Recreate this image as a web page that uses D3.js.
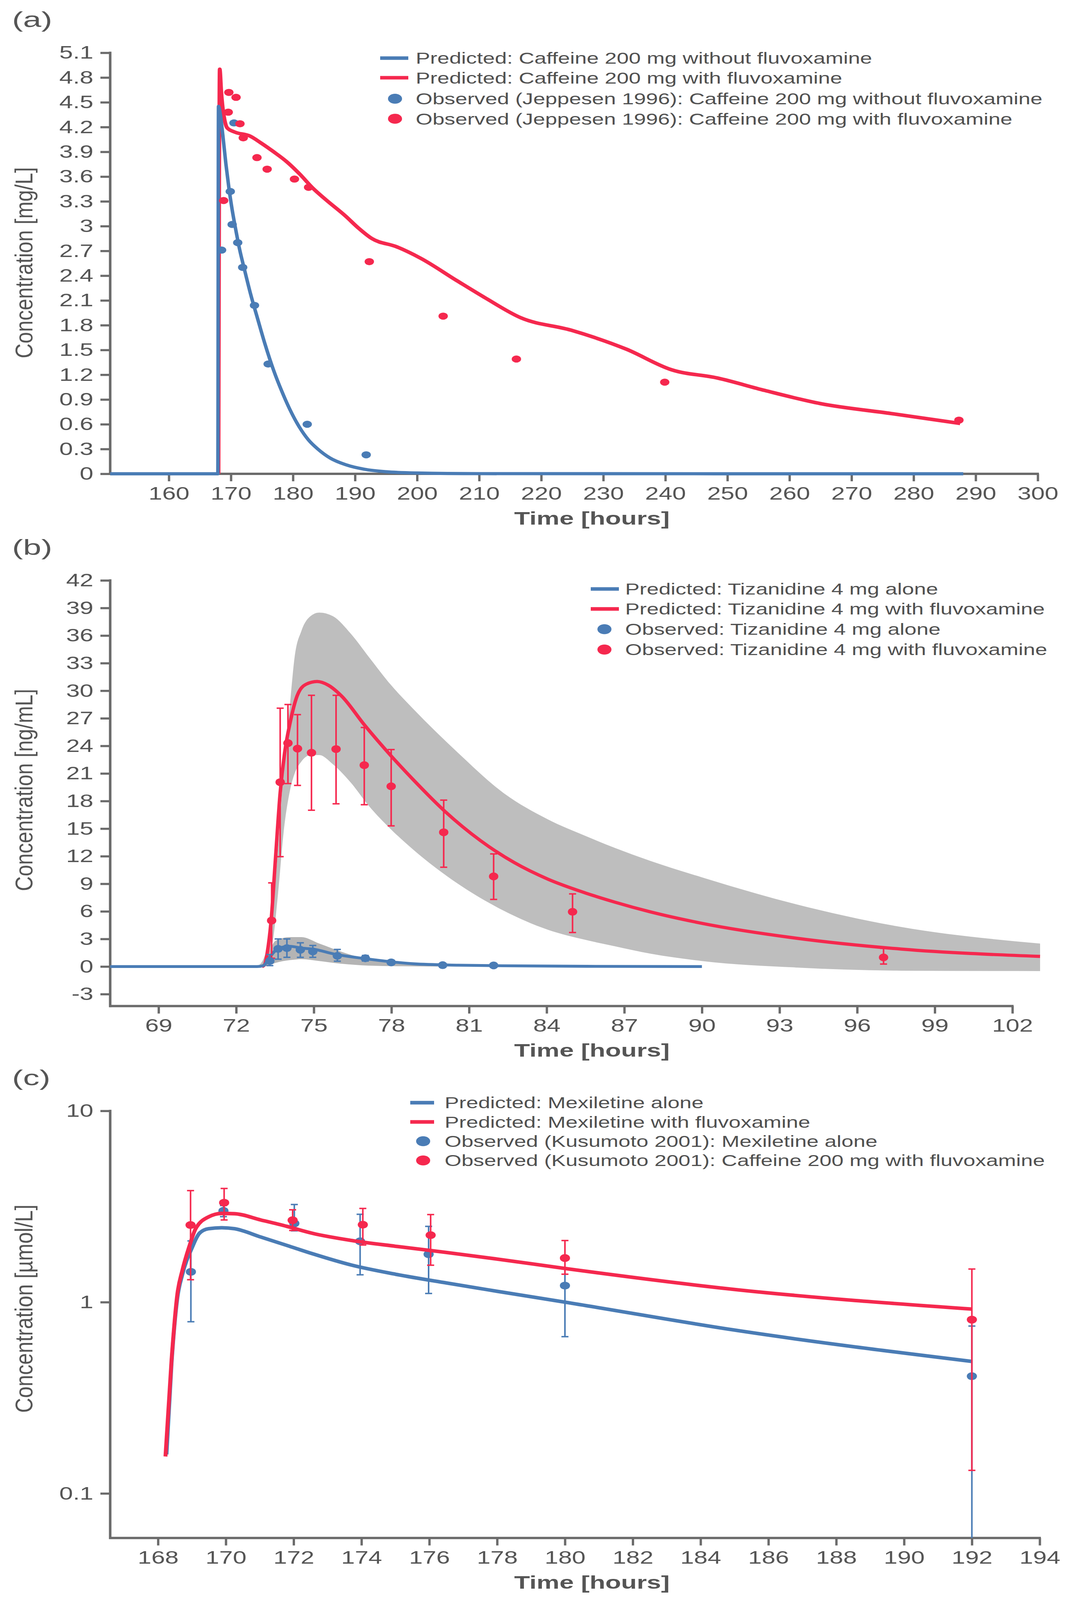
<!DOCTYPE html>
<html><head><meta charset="utf-8">
<script src="https://cdn.jsdelivr.net/npm/d3@7"></script>
<style>html,body{margin:0;padding:0;background:#fff;overflow:hidden}#c{display:block;width:100vw;height:100vh}text{font-family:"Liberation Sans",Arial,sans-serif}</style>
</head><body>
<svg id="c" viewBox="0 0 2736 4488" preserveAspectRatio="none" xmlns="http://www.w3.org/2000/svg"></svg>
<script>
// ---------------- Panel (a) data ----------------
const aXTicks=[160,170,180,190,200,210,220,230,240,250,260,270,280,290,300];
const aYTicks=[0,0.3,0.6,0.9,1.2,1.5,1.8,2.1,2.4,2.7,3,3.3,3.6,3.9,4.2,4.5,4.8,5.1];
const aPredBlue=[[150.55,0],[167.9,0],[168.0,4.45],[168.3,4.35],[168.7,4.1],[169.2,3.75],[169.7,3.45],[170.2,3.2],[170.8,2.95],[171.4,2.72],[172.2,2.47],[173.2,2.17],[174.3,1.88],[175.5,1.57],[176.9,1.25],[178.2,1.0],[179.5,0.78],[181.0,0.57],[182.5,0.41],[184.0,0.30],[186.0,0.19],[188.5,0.11],[191.5,0.055],[195,0.025],[200,0.01],[210,0.002],[288,0]];
const aPredRed=[[168.0,0],[168.2,4.9],[168.45,4.62],[168.7,4.42],[169.0,4.28],[169.4,4.19],[170.6,4.14],[173.1,4.09],[174.8,4.01],[176.9,3.9],[179.0,3.78],[181.1,3.63],[183.2,3.46],[185.3,3.32],[188.5,3.12],[190.5,2.98],[192.7,2.85],[196.7,2.75],[200.6,2.61],[206.4,2.34],[211.0,2.13],[216.7,1.89],[224.8,1.74],[233.7,1.51],[241.0,1.26],[248.4,1.16],[256.0,1.01],[265.0,0.85],[276.4,0.73],[287.5,0.61]];
const aObsBlue=[[168.5,2.71],[169.9,3.42],[170.2,3.02],[170.5,4.25],[171.1,2.80],[171.9,2.50],[173.8,2.04],[176.0,1.33],[182.3,0.60],[191.8,0.23]];
const aObsRed=[[168.83,3.31],[169.57,4.38],[169.67,4.62],[170.83,4.56],[171.46,4.24],[171.99,4.07],[174.2,3.83],[175.84,3.69],[180.24,3.57],[182.52,3.47],[192.3,2.57],[204.2,1.91],[216.0,1.39],[239.9,1.11],[287.3,0.65]];
const aLegend=["Predicted: Caffeine 200 mg without fluvoxamine","Predicted: Caffeine 200 mg with fluvoxamine","Observed (Jeppesen 1996): Caffeine 200 mg without fluvoxamine","Observed (Jeppesen 1996): Caffeine 200 mg with fluvoxamine"];

// ---------------- Panel (b) data ----------------
const bXTicks=[69,72,75,78,81,84,87,90,93,96,99,102];
const bYTicks=[-3,0,3,6,9,12,15,18,21,24,27,30,33,36,39,42];
// band rows: [time, lower, upper]
const bBandRed=[[72.79,0,0],[73.05,0,0.8],[73.40,2.5,5.5],[73.62,8.0,13],[73.83,14.5,21.3],[74.09,19.3,28.9],[74.26,21.0,33.7],[74.52,22.3,36.5],[74.87,23.0,38.1],[75.21,23.0,38.5],[75.74,22.0,38.1],[76.43,20.0,36.2],[77.12,17.5,33.7],[77.99,14.9,30.6],[78.85,12.7,28.0],[80.59,8.97,23.2],[82.32,6.1,18.9],[84.05,4.0,16.0],[85.5,2.9,14.2],[86.64,2.2,12.9],[88,1.4,11.5],[90,0.6,9.7],[93.6,-0.1,6.8],[97.7,-0.45,4.3],[103.07,-0.5,2.5]];
const bBandBlue=[[72.95,0,0],[73.2,0.1,1.2],[73.52,0.4,2.8],[74.09,0.7,3.2],[74.52,0.8,3.2],[75.21,0.6,2.5],[76.08,0.3,1.6],[77.12,0.1,0.75],[78.42,0.03,0.3],[79.7,0,0.1],[81,0,0]];
const bPredRed=[[73.0,0],[73.1,0.2],[73.2,1.5],[73.35,5.0],[73.52,11.8],[73.70,18.9],[73.87,23.2],[74.09,26.6],[74.35,29.4],[74.70,30.7],[75.13,31.0],[75.56,30.6],[76.08,29.4],[76.95,26.3],[77.99,22.9],[78.85,20.3],[80.06,16.9],[81.44,13.7],[82.75,11.3],[84.05,9.5],[85.5,8.0],[86.64,7.0],[88,5.95],[90,4.7],[93.6,3.1],[97.7,1.9],[103.07,1.1]];
const bPredBlue=[[67.13,0],[72.8,0],[73.05,0.1],[73.3,1.05],[73.65,2.0],[74.09,2.2],[74.52,2.0],[74.96,1.9],[75.8,1.35],[76.95,0.87],[77.99,0.52],[78.85,0.3],[80.59,0.15],[82.3,0.08],[86,0.02],[90,0]];
// observed rows: [time, mean, lower, upper]
const bObsRed=[[73.37,5.0,0.9,9.1],[73.70,20.05,11.95,28.1],[74.00,24.3,19.9,28.5],[74.37,23.7,19.7,27.4],[74.91,23.25,17.0,29.5],[75.86,23.65,17.7,29.5],[76.95,21.9,17.6,26.0],[77.99,19.6,15.3,23.6],[80.02,14.6,10.8,18.1],[81.95,9.8,7.3,12.25],[85.0,5.95,3.7,7.9],[97.02,0.99,0.27,1.98]];
const bObsBlue=[[73.3,0.6,0.1,1.3],[73.62,1.92,0.8,3.0],[73.96,2.0,1.0,3.0],[74.48,1.82,1.0,2.58],[74.96,1.64,1.0,2.29],[75.91,1.16,0.58,1.86],[76.99,0.9,0.6,1.2],[77.99,0.45,0.3,0.6],[79.98,0.15,0.1,0.2],[81.95,0.12,0.08,0.16]];
const bLegend=["Predicted: Tizanidine 4 mg alone","Predicted: Tizanidine 4 mg with fluvoxamine","Observed: Tizanidine 4 mg alone","Observed: Tizanidine 4 mg with fluvoxamine"];

// ---------------- Panel (c) data ----------------
const cXTicks=[168,170,172,174,176,178,180,182,184,186,188,190,192,194];
const cYTicks=[0.1,1,10];
const cPredRed=[[168.22,0.156],[168.40,0.50],[168.57,1.10],[168.72,1.47],[168.92,1.95],[169.11,2.42],[169.49,2.79],[169.88,2.91],[170.26,2.90],[171.03,2.69],[171.80,2.49],[172.56,2.29],[173.72,2.10],[175.0,1.96],[176.5,1.82],[178.0,1.68],[180,1.50],[185.1,1.16],[192,0.92]];
const cPredBlue=[[168.25,0.16],[168.40,0.48],[168.57,1.05],[168.72,1.40],[169.0,1.92],[169.22,2.29],[169.49,2.42],[169.88,2.45],[170.26,2.42],[171.03,2.19],[171.80,1.98],[172.56,1.79],[173.72,1.56],[175.0,1.40],[176.5,1.26],[178.0,1.14],[180,1.0],[185.1,0.71],[192,0.49]];
const cObsRed=[[168.96,2.53,1.31,3.83],[169.95,3.31,2.69,3.93],[171.97,2.68,2.37,3.04],[174.04,2.54,1.99,3.09],[176.04,2.24,1.56,2.87],[180.0,1.70,1.40,2.10],[192.0,0.81,0.132,1.49]];
const cObsBlue=[[168.97,1.44,0.79,2.09],[169.93,3.0,2.8,3.2],[172.02,2.58,2.36,3.24],[173.96,2.08,1.39,2.88],[175.98,1.78,1.11,2.49],[180.0,1.22,0.66,1.49],[192.0,0.41,0.02,0.75]];
const cLegend=["Predicted: Mexiletine alone","Predicted: Mexiletine with fluvoxamine","Observed (Kusumoto 2001): Mexiletine alone","Observed (Kusumoto 2001): Caffeine 200 mg with fluvoxamine"];

// ---------------- styling ----------------
const BLUE="#4a7cb5", RED="#f5284e", GREY="#bebebe", AXIS="#6b6b6b", TXT="#555555";
const svg=d3.select("#c");
svg.append("rect").attr("width",2736).attr("height",4488).attr("fill","#fff");

function stretch(sel,k){
  sel.each(function(){
    const w=this.getComputedTextLength();
    if(w>0){this.setAttribute("textLength",(w*k).toFixed(1));this.setAttribute("lengthAdjust","spacingAndGlyphs");}
  });
}

function axes(x,y,xTicks,yTicks,xFmt,yFmt,xEnd,yTop){
  const g=svg.append("g");
  const bottom=y.range()[0], left=x.range()[0];
  const gx=g.append("g").attr("transform",`translate(0,${bottom})`)
    .call(d3.axisBottom(x).tickValues(xTicks).tickFormat(xFmt).tickSize(21).tickPadding(15).tickSizeOuter(0));
  const gy=g.append("g").attr("transform",`translate(${left},0)`)
    .call(d3.axisLeft(y).tickValues(yTicks).tickFormat(yFmt).tickSize(25).tickPadding(18).tickSizeOuter(0));
  [gx,gy].forEach(a=>{
    a.select(".domain").remove();
    a.selectAll(".tick line").attr("stroke",AXIS).attr("stroke-width",6);
    a.selectAll(".tick text").attr("fill",TXT).attr("font-size",51).attr("font-family",'"Liberation Sans",Arial,sans-serif');
    stretch(a.selectAll(".tick text"),1.23);
  });
  g.append("line").attr("x1",left-3).attr("x2",x(xEnd)+3).attr("y1",bottom).attr("y2",bottom).attr("stroke",AXIS).attr("stroke-width",6.5);
  g.append("line").attr("x1",left).attr("x2",left).attr("y1",bottom+3).attr("y2",y(yTop)-3).attr("stroke",AXIS).attr("stroke-width",6.5);
}

function titles(label,px,py,yTitle,yc,ylen,xAxisY){
  const t=svg.append("text").attr("x",px).attr("y",py).attr("font-size",60).attr("fill",TXT).text(label);
  stretch(t,1.4);
  svg.append("text").attr("x",1515).attr("y",xAxisY+142).attr("text-anchor","middle")
    .attr("font-size",50).attr("font-weight","bold").attr("fill",TXT)
    .attr("textLength",398).attr("lengthAdjust","spacingAndGlyphs").text("Time [hours]");
  svg.append("text").attr("transform",`translate(61,${yc}) rotate(-90) scale(1,1.25)`)
    .attr("text-anchor","middle").attr("dominant-baseline","central")
    .attr("font-size",50).attr("fill",TXT)
    .attr("textLength",ylen).attr("lengthAdjust","spacingAndGlyphs").text(yTitle);
}

function legend(labels,lx1,lx2,mx,tx,rows){
  const kinds=[["line",BLUE],["line",RED],["dot",BLUE],["dot",RED]];
  labels.forEach((lab,i)=>{
    const [kind,col]=kinds[i];
    if(kind==="line") svg.append("line").attr("x1",lx1).attr("x2",lx2).attr("y1",rows[i]).attr("y2",rows[i]).attr("stroke",col).attr("stroke-width",10);
    else svg.append("ellipse").attr("cx",mx).attr("cy",rows[i]).attr("rx",18).attr("ry",14).attr("fill",col);
    const t=svg.append("text").attr("x",tx).attr("y",rows[i]+16).attr("font-size",44).attr("fill","#505050").text(lab);
    stretch(t,1.255);
  });
}

function line(x,y,data,col,w){
  svg.append("path").datum(data).attr("fill","none").attr("stroke",col).attr("stroke-width",w)
    .attr("stroke-linejoin","round")
    .attr("d",d3.line().x(d=>x(d[0])).y(d=>y(d[1])).curve(d3.curveMonotoneX));
}
function band(x,y,data,col){
  svg.append("path").datum(data).attr("fill",col).attr("stroke","none")
    .attr("d",d3.area().x(d=>x(d[0])).y0(d=>y(d[1])).y1(d=>y(d[2])).curve(d3.curveMonotoneX));
}
function dots(x,y,data,col,rx,ry){
  svg.append("g").selectAll("ellipse").data(data).join("ellipse")
    .attr("cx",d=>x(d[0])).attr("cy",d=>y(d[1])).attr("rx",rx).attr("ry",ry).attr("fill",col);
}
function errbars(x,y,data,col,ymin){
  const g=svg.append("g").attr("stroke",col).attr("stroke-width",4);
  data.forEach(d=>{
    const cx=x(d[0]);
    const loClip=d[2]<=ymin;
    const y0=y(loClip?ymin:d[2]), y1=y(d[3]);
    g.append("line").attr("x1",cx).attr("x2",cx).attr("y1",y0).attr("y2",y1);
    g.append("line").attr("x1",cx-9).attr("x2",cx+9).attr("y1",y1).attr("y2",y1);
    if(!loClip) g.append("line").attr("x1",cx-9).attr("x2",cx+9).attr("y1",y0).attr("y2",y0);
  });
}
const plain=d=>String(d);

// ================= Panel (a) =================
{
  const x=d3.scaleLinear().domain([150.55,300]).range([282,2656]);
  const y=d3.scaleLinear().domain([0,5.1]).range([1329,148]);
  axes(x,y,aXTicks,aYTicks,plain,d=>String(+d.toFixed(1)),300,5.1);
  line(x,y,aPredRed,RED,10);
  line(x,y,aPredBlue,BLUE,9);
  dots(x,y,aObsBlue,BLUE,12,10);
  dots(x,y,aObsRed,RED,12,10);
  titles("(a)",31,76,"Concentration [mg/L]",737,536,1329);
  legend(aLegend,973,1045,1011,1064,[163,218,277,333]);
}

// ================= Panel (b) =================
{
  const x=d3.scaleLinear().domain([67.13,103.07]).range([282,2662]);
  const y=d3.scaleLinear().domain([-4.3,42]).range([2822,1628]);
  band(x,y,bBandRed,GREY);
  band(x,y,bBandBlue,"#b4b4b4");
  axes(x,y,bXTicks,bYTicks,plain,plain,102,42);
  line(x,y,bPredRed,RED,9);
  line(x,y,bPredBlue,BLUE,8);
  errbars(x,y,bObsRed,RED,-10);
  dots(x,y,bObsRed,RED,12,11);
  errbars(x,y,bObsBlue,BLUE,-10);
  dots(x,y,bObsBlue,BLUE,12,11);
  titles("(b)",31,1556,"Concentration [ng/mL]",2216,567,2822);
  legend(bLegend,1512,1584,1547,1600,[1652,1708,1765,1822]);
}

// ================= Panel (c) =================
{
  const x=d3.scaleLinear().domain([166.59,194]).range([282,2661]);
  const y=d3.scaleLog().domain([0.0585,10]).range([4314,3116]);
  axes(x,y,cXTicks,cYTicks,plain,d=>d===0.1?"0.1":String(d),194,10);
  errbars(x,y,cObsBlue,BLUE,0.0585);
  dots(x,y,cObsBlue,BLUE,13,11);
  line(x,y,cPredBlue,BLUE,10);
  line(x,y,cPredRed,RED,10);
  errbars(x,y,cObsRed,RED,0.0585);
  dots(x,y,cObsRed,RED,13,11);
  titles("(c)",31,3044,"Concentration [µmol/L]",3671,584,4314);
  legend(cLegend,1050,1111,1083,1138,[3093,3147,3201,3255]);
}
</script>
</body></html>
